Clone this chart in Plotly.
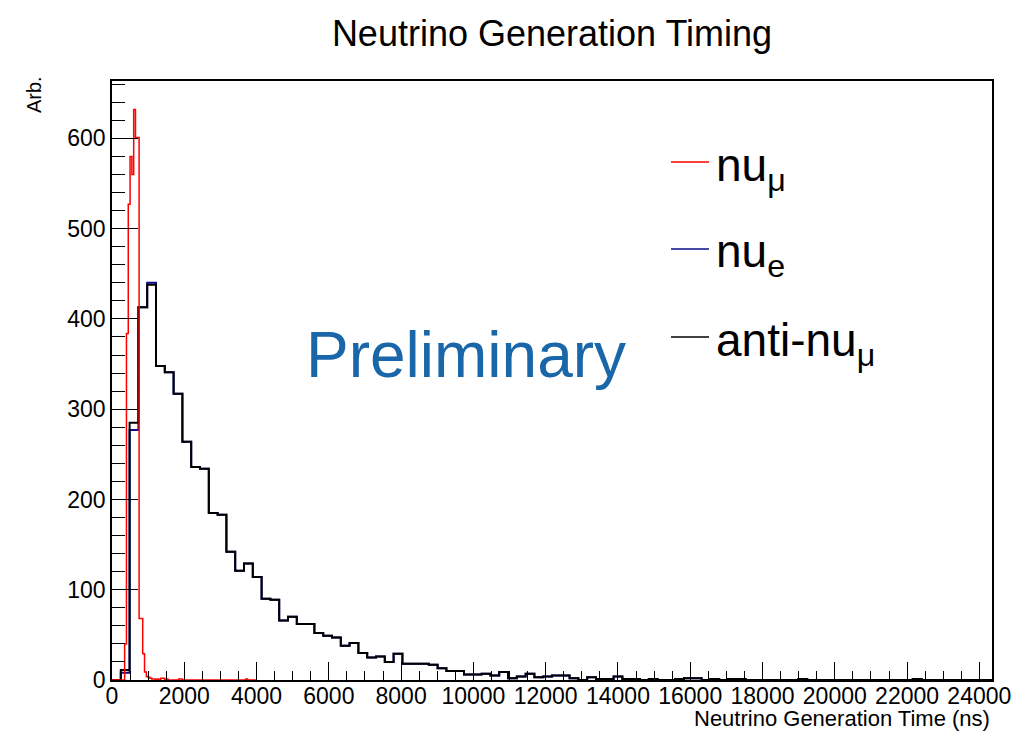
import numpy as np
import plotly.graph_objects as go

# ---- binning -------------------------------------------------------------
WIDE_LO, WIDE_HI, WIDE_NBINS = 0.0, 24350.0, 100      # nu_e / anti-nu_mu histograms
NARROW_LO, NARROW_HI, NARROW_NBINS = 0.0, 4000.0, 80  # nu_mu histogram

# ---- bin contents --------------------------------------------------------
anti_numu_counts = [
    0, 11, 285, 413, 438, 348, 341, 317, 264, 236,
    234, 185, 183, 142, 121, 129, 114, 90, 89, 66,
    70, 62, 62, 52, 49, 47, 38, 41, 30, 25,
    26, 20, 29, 18, 18, 18, 17, 13, 10, 10,
    6, 6, 7, 5, 9, 2, 4, 7, 3, 4,
    5, 5, 2, 0, 3, 1, 1, 4, 1, 1,
    0, 1, 0, 0, 1, 2, 2, 0, 1, 0,
    1, 1, 0, 0, 0, 0, 0, 0, 1, 0,
    0, 0, 0, 0, 0, 0, 0, 0, 0, 0,
    0, 1, 0, 0, 0, 0, 0, 0, 0, 0,
]

nue_counts = [
    0, 8, 277, 413, 440, 348, 341, 317, 264, 236,
    234, 185, 183, 142, 121, 129, 114, 90, 89, 66,
    70, 62, 62, 52, 49, 47, 38, 41, 30, 25,
    26, 20, 29, 18, 18, 18, 17, 13, 10, 10,
    6, 6, 7, 5, 9, 2, 4, 7, 3, 4,
    5, 5, 2, 0, 3, 1, 1, 4, 1, 1,
    0, 1, 0, 0, 1, 2, 2, 0, 1, 0,
    1, 1, 0, 0, 0, 0, 0, 0, 1, 0,
    0, 0, 0, 0, 0, 0, 0, 0, 0, 0,
    0, 1, 0, 0, 0, 0, 0, 0, 0, 0,
]

numu_counts = [
    0, 0, 0, 0, 0, 0, 0, 40, 384, 527,
    580, 560, 632, 601, 601, 68, 68, 29, 9, 4,
    3, 2, 1, 1, 0, 1, 0, 2, 2, 0,
    1, 0, 0, 0, 0, 0, 0, 1, 1, 0,
    0, 0, 0, 0, 0, 0, 0, 0, 0, 0,
    0, 0, 0, 0, 0, 0, 0, 0, 0, 0,
    0, 0, 0, 0, 0, 0, 0, 0, 0, 0,
    0, 0, 0, 0, 1, 0, 0, 0, 0, 0,
]

x_tick_values = list(range(0, 24001, 2000))
y_tick_values = list(range(0, 601, 100))

TITLE = "Neutrino Generation Timing"
X_TITLE = "Neutrino Generation Time (ns)"
Y_TITLE = "Arb."

# ---- page geometry (pixels) ----------------------------------------------
W, H = 1025, 732
ML, MR, MT, MB = 112, 33, 81, 52
PW, PH = W - ML - MR, H - MT - MB
FONT = "Liberation Sans, Arial, Helvetica, sans-serif"


def px_x(p):
    return (p - ML) / PW


def px_y(p):
    return (H - MB - p) / PH


def step_outline(lo, hi, nbins, counts):
    edges = np.linspace(lo, hi, nbins + 1)
    xs = np.concatenate([[edges[0]], edges])
    ys = np.concatenate([[0], counts, [0]])
    return xs, ys


fig = go.Figure()

for name, lo, hi, nb, counts, colour, lw in [
    ("nu_e", WIDE_LO, WIDE_HI, WIDE_NBINS, nue_counts, "#0b0b8c", 2),
    ("anti-nu_mu", WIDE_LO, WIDE_HI, WIDE_NBINS, anti_numu_counts, "#000000", 2),
    ("nu_mu", NARROW_LO, NARROW_HI, NARROW_NBINS, numu_counts, "#ff0000", 1.5),
]:
    xs, ys = step_outline(lo, hi, nb, counts)
    fig.add_trace(go.Scatter(
        x=xs, y=ys, mode="lines", name=name,
        line=dict(color=colour, width=lw, shape="hv"),
        showlegend=False, hoverinfo="skip",
    ))

y_max = 1.05 * max(max(anti_numu_counts), max(nue_counts), max(numu_counts))

fig.update_xaxes(
    range=[WIDE_LO, WIDE_HI],
    tickvals=x_tick_values,
    ticktext=[str(v) for v in x_tick_values],
    ticks="inside", ticklen=18, tickwidth=1, tickcolor="black",
    minor=dict(dtick=500, tick0=0, ticks="inside", ticklen=9, tickwidth=1, tickcolor="black"),
    showline=True, linecolor="black", linewidth=1.5, mirror=True,
    showgrid=False, zeroline=False,
    ticklabelstandoff=-5,
    tickfont=dict(family=FONT, size=23, color="black"),
)
fig.update_yaxes(
    range=[0, y_max],
    tickvals=y_tick_values,
    ticktext=[str(v) for v in y_tick_values],
    ticks="inside", ticklen=26, tickwidth=1, tickcolor="black",
    minor=dict(dtick=20, tick0=0, ticks="inside", ticklen=13, tickwidth=1, tickcolor="black"),
    showline=True, linecolor="black", linewidth=1.5, mirror=True,
    showgrid=False, zeroline=False,
    tickfont=dict(family=FONT, size=23, color="black"),
)

annotations = [
    dict(text=X_TITLE, xref="paper", yref="paper", x=1.0, y=px_y(733),
         xanchor="right", yanchor="bottom", showarrow=False,
         font=dict(family=FONT, size=22, color="black")),
    dict(text=Y_TITLE, xref="paper", yref="paper", x=px_x(34), y=px_y(95),
         xanchor="center", yanchor="middle", textangle=-90, showarrow=False,
         font=dict(family=FONT, size=20, color="black")),
    dict(text="Preliminary", xref="paper", yref="paper", x=px_x(466), y=px_y(355),
         xanchor="center", yanchor="middle", showarrow=False,
         font=dict(family=FONT, size=64, color="#1967a9")),
]

shapes = []
legend_rows = [
    ("nu<sub>μ</sub>", "#ff0000", 162),
    ("nu<sub>e</sub>", "#0b0b8c", 249),
    ("anti-nu<sub>μ</sub>", "#000000", 337),
]
for label, colour, yline in legend_rows:
    shapes.append(dict(type="line", xref="paper", yref="paper",
                       x0=px_x(671), x1=px_x(709), y0=px_y(yline), y1=px_y(yline),
                       line=dict(color=colour, width=1.5)))
    annotations.append(dict(text=label, xref="paper", yref="paper",
                            x=px_x(714), y=px_y(yline + 6),
                            xanchor="left", yanchor="middle", showarrow=False,
                            font=dict(family=FONT, size=46, color="black")))

fig.update_layout(
    width=W, height=H, autosize=False,
    margin=dict(l=ML, r=MR, t=MT, b=MB),
    paper_bgcolor="white", plot_bgcolor="white",
    title=dict(text=TITLE, x=552 / W, xanchor="center",
               y=1 - 33 / H, yanchor="middle",
               font=dict(family=FONT, size=36, color="black")),
    annotations=annotations,
    shapes=shapes,
    showlegend=False,
)

fig.write_html("out.html")
